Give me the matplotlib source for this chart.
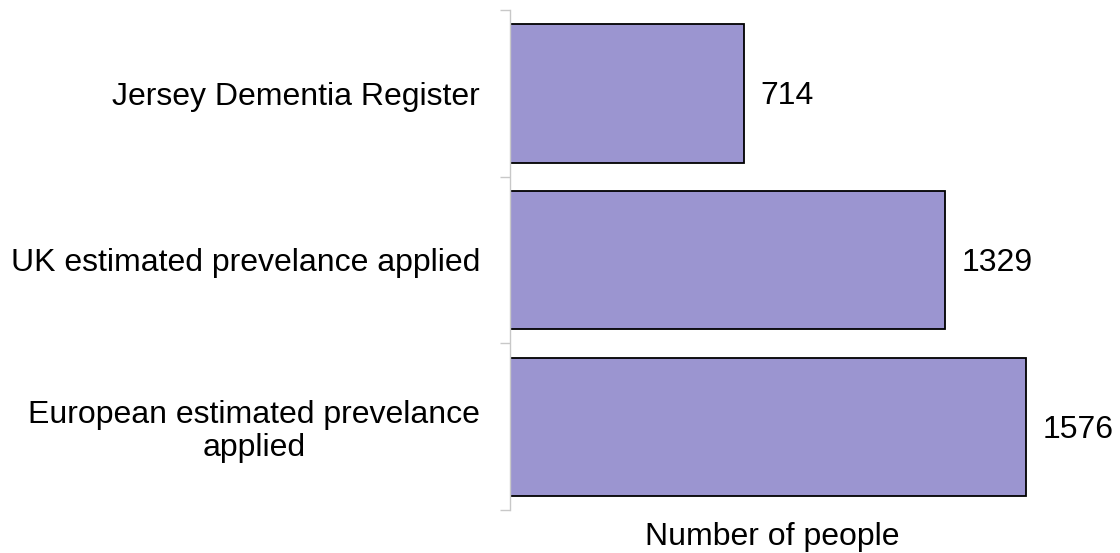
import matplotlib
matplotlib.use("Agg")
import matplotlib.pyplot as plt

categories = ["Jersey Dementia Register",
              "UK estimated prevelance applied",
              "European estimated prevelance\napplied"]
values = [714, 1329, 1576]
xlabel = "Number of people"

plt.rcParams['font.family'] = ['Liberation Sans', 'DejaVu Sans']
FS = 23

fig = plt.figure(figsize=(11.2, 5.53), dpi=100)
ax = fig.add_axes([510 / 1120, 43 / 553, 524 / 1120, 500 / 553])

pos = list(range(len(categories)))
ax.barh(pos, values, height=0.83, color="#9b95d0", edgecolor="black", linewidth=1.3)
ax.set_ylim(2.5, -0.5)
ax.set_xlim(0, 1600)

for p, v in zip(pos, values):
    ax.annotate(f"{v}", xy=(v, p), xytext=(12, -2.2), textcoords="offset points",
                va="center", ha="left", fontsize=FS, annotation_clip=False)

# category labels placed between boundary ticks
ax.set_yticks(pos)
ax.set_yticklabels(categories, fontsize=FS, ha="right", multialignment="center",
                   linespacing=1.12)
ax.tick_params(axis="y", which="major", length=0, pad=21.5)
ax.set_yticks([-0.5, 0.5, 1.5, 2.5], minor=True)
ax.tick_params(axis="y", which="minor", length=7, width=1, color="#c8c8c8", direction="out")

ax.set_xticks([])
for s in ["top", "right", "bottom"]:
    ax.spines[s].set_visible(False)
ax.spines["left"].set_color("#c8c8c8")
ax.spines["left"].set_linewidth(1)

ax.set_xlabel(xlabel, fontsize=FS, labelpad=8.5)

fig.savefig("out.png", dpi=100)
